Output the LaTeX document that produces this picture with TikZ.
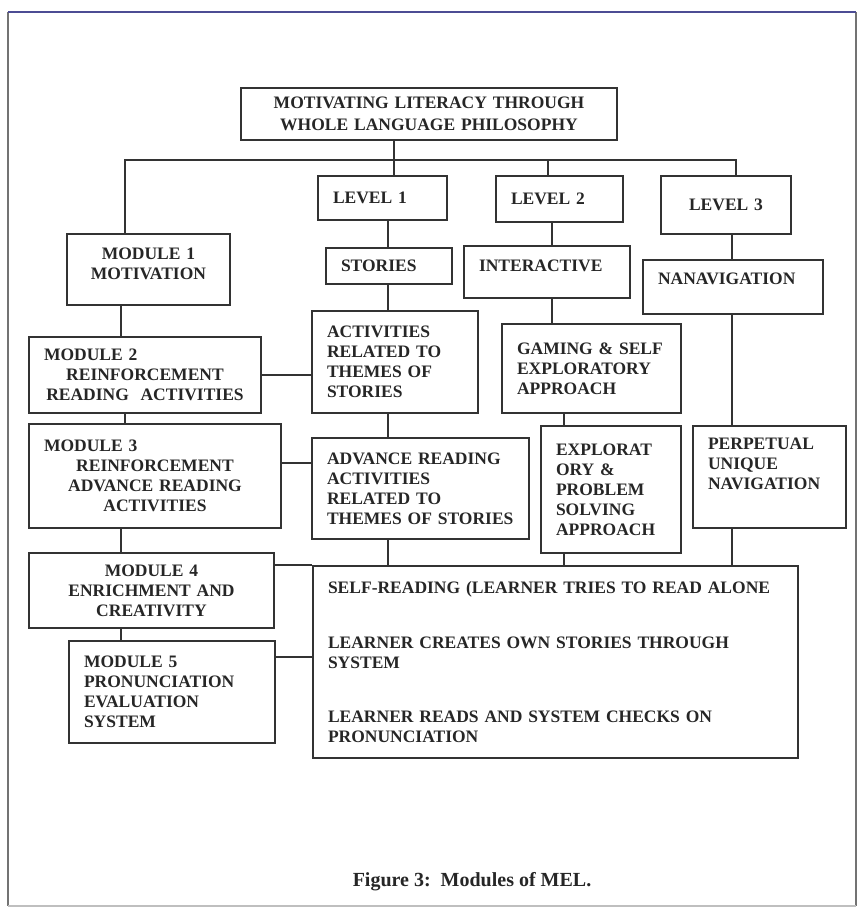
\documentclass[tikz,border=0pt]{standalone}
\usepackage{fontspec}
\setmainfont{Liberation Serif}
\usepackage{tikz}

\tikzset{
	box/.style={draw=black!80, line width=2pt, anchor=north west, inner xsep=15pt, inner ysep=0pt,
		align=left, text=black!85, font=\bfseries\fontsize{17.5}{20}\selectfont},
	boxsize/.code 2 args={\pgfmathsetmacro\boxw{#1-30}%
		\pgfkeysalso{/tikz/minimum width=#1pt, /tikz/minimum height=#2pt, /tikz/text width=\boxw pt}},
	link/.style={draw=black!80, line width=2.6pt},
}

\begin{document}
\begin{tikzpicture}[x=1pt, y=-1pt]
	\useasboundingbox (0,0) rectangle (863,913);
	
	% Page frame
	\draw[black!55, line width=1.2pt] (8,12) -- (8,906);
	\draw[black!55, line width=1.2pt] (856,12) -- (856,906);
	\draw[black!25, line width=1.2pt] (8,906) -- (856,906);
	\draw[black!60!blue!70, line width=2.4pt] (8,12) -- (856,12);
	
	% Title and levels
	\node[box, boxsize={376}{52}, align=center, font=\bfseries\fontsize{17.5}{22}\selectfont] (top) at (240,87)
		{MOTIVATING LITERACY THROUGH\\WHOLE LANGUAGE PHILOSOPHY};
	\node[box, boxsize={129}{44}] (lvl1) at (317,175) {LEVEL 1};
	\node[box, boxsize={127}{46}] (lvl2) at (495,175) {LEVEL 2};
	\node[box, boxsize={130}{58}, align=center] (lvl3) at (660,175) {LEVEL 3};
	
	% Modules on the left
	\node[box, boxsize={163}{71}, align=center, text depth=32pt] (mod1) at (66,233) {MODULE 1\\MOTIVATION};
	\node[box, boxsize={232}{76}, align=center] (mod2) at (28,336)
		{\makebox[\linewidth][l]{MODULE 2}\\REINFORCEMENT\\READING\ \ ACTIVITIES};
	\node[box, boxsize={252}{104}, align=center] (mod3) at (28,423)
		{\makebox[\linewidth][l]{MODULE 3}\\REINFORCEMENT\\ADVANCE READING\\ACTIVITIES};
	\node[box, boxsize={245}{75}, align=center] (mod4) at (28,552) {MODULE 4\\ENRICHMENT AND\\CREATIVITY};
	\node[box, boxsize={206}{102}] (mod5) at (68,640) {MODULE 5\\PRONUNCIATION\\EVALUATION\\SYSTEM};
	
	% Level 1 column
	\node[box, boxsize={126}{36}] (stories) at (325,247) {STORIES};
	\node[box, boxsize={166}{102}] (activ) at (311,310) {ACTIVITIES\\RELATED TO\\THEMES OF\\STORIES};
	\node[box, boxsize={217}{101}] (advance) at (311,437)
		{ADVANCE READING\\ACTIVITIES\\RELATED TO\\THEMES OF STORIES};
	
	% Level 2 column
	\node[box, boxsize={166}{52}, text depth=12pt] (inter) at (463,245) {INTERACTIVE};
	\node[box, boxsize={179}{89}] (gaming) at (501,323) {GAMING \& SELF\\EXPLORATORY\\APPROACH};
	\node[box, boxsize={140}{127}] (explorat) at (540,425) {EXPLORAT\\ORY \&\\PROBLEM\\SOLVING\\APPROACH};
	
	% Level 3 column
	\node[box, boxsize={180}{54}, text depth=17pt] (nanav) at (642,259) {NANAVIGATION};
	\node[box, boxsize={153}{102}, text depth=66pt] (perp) at (692,425) {PERPETUAL\\UNIQUE\\NAVIGATION};
	
	% Outcomes
	\node[box, boxsize={485}{192}] (big) at (312,565)
		{SELF-READING (LEARNER TRIES TO READ ALONE\\[35pt]LEARNER CREATES OWN STORIES THROUGH\\SYSTEM\\[34pt]LEARNER READS AND SYSTEM CHECKS ON\\PRONUNCIATION};
	
	% Bus and column positions
	\coordinate (b0) at (125,160);
	\coordinate (b1) at (394,160);
	\coordinate (b2) at (548,160);
	\coordinate (b3) at (736,160);
	\coordinate (cL) at (121,0);
	\coordinate (c1) at (388,0);
	\coordinate (c2) at (552,0);
	\coordinate (c2b) at (564,0);
	\coordinate (c3) at (732,0);
	\coordinate (r3) at (0,463);
	\coordinate (r5) at (0,657);
	
	% Top bus
	\draw[link] (b0 |- mod1.north) -- (b0) -- (b3) -- (b3 |- lvl3.north);
	\draw[link] (b1 |- top.south) -- (b1 |- lvl1.north);
	\draw[link] (b2) -- (b2 |- lvl2.north);
	
	% Left spine
	\draw[link] (mod1.south -| cL) -- (mod2.north -| cL);
	\draw[link] (mod2.south -| b0) -- (mod3.north -| b0);
	\draw[link] (mod3.south -| cL) -- (mod4.north -| cL);
	\draw[link] (mod4.south -| cL) -- (mod5.north -| cL);
	
	% Level columns
	\draw[link] (lvl1.south -| c1) -- (stories.north -| c1);
	\draw[link] (stories.south -| c1) -- (activ.north -| c1);
	\draw[link] (activ.south -| c1) -- (advance.north -| c1);
	\draw[link] (advance.south -| c1) -- (big.north -| c1);
	\draw[link] (lvl2.south -| c2) -- (inter.north -| c2);
	\draw[link] (inter.south -| c2) -- (gaming.north -| c2);
	\draw[link] (gaming.south -| c2b) -- (explorat.north -| c2b);
	\draw[link] (explorat.south -| c2b) -- (big.north -| c2b);
	\draw[link] (lvl3.south -| c3) -- (nanav.north -| c3);
	\draw[link] (nanav.south -| c3) -- (perp.north -| c3);
	\draw[link] (perp.south -| c3) -- (big.north -| c3);
	
	% Cross links
	\draw[link] (mod2.east) -- (mod2.east -| activ.west);
	\draw[link] (r3 -| mod3.east) -- (r3 -| advance.west);
	\draw[link] (big.north west -| mod4.east) -- (big.north west);
	\draw[link] (r5 -| mod5.east) -- (r5 -| big.west);
	
	% Caption
	\node[text=black!85, font=\bfseries\fontsize{20}{24}\selectfont] (cap) at (472,882) {Figure 3:\ \ Modules of MEL.};
\end{tikzpicture}
\end{document}
